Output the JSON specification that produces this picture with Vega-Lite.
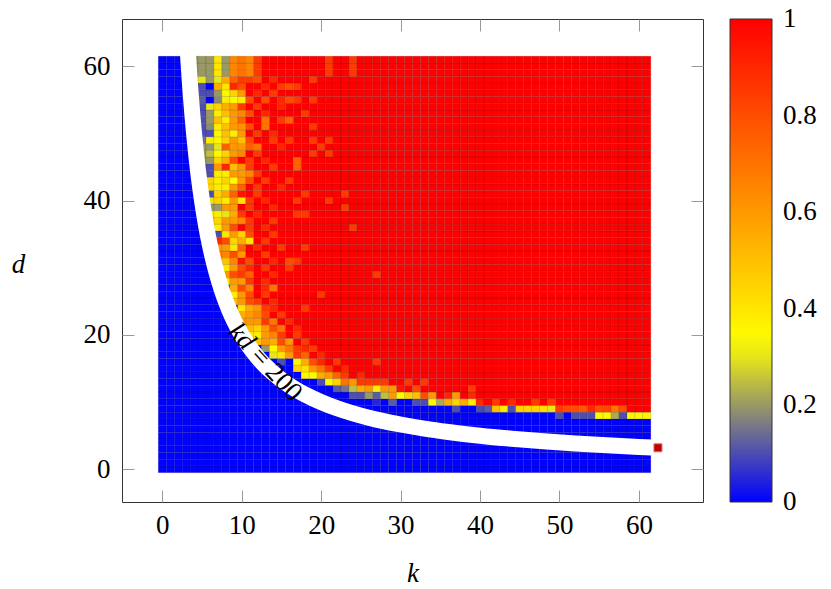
{"$schema":"https://vega.github.io/schema/vega-lite/v6.json","width":581,"height":483,"autosize":"none","padding":{"left":122,"top":19,"right":128,"bottom":87},"background":"white",
"config":{"view":{"stroke":"#333","strokeWidth":1},"axis":{"domain":false,"grid":false,"tickColor":"#999","tickWidth":1,"tickSize":-12,"labelFont":"Liberation Serif","labelFontSize":27,"labelColor":"#000","titleFont":"Liberation Serif","titleFontSize":27,"titleFontStyle":"italic","titleFontWeight":"normal","titleColor":"#000"}},
"layer":[
{"data":{"values":"k,d,v\n0,0,0\n1,0,0\n2,0,0\n3,0,0\n4,0,0\n5,0,0\n6,0,0\n7,0,0\n8,0,0\n9,0,0\n10,0,0\n11,0,0\n12,0,0\n13,0,0\n14,0,0\n15,0,0\n16,0,0\n17,0,0\n18,0,0\n19,0,0\n20,0,0\n21,0,0\n22,0,0\n23,0,0\n24,0,0\n25,0,0\n26,0,0\n27,0,0\n28,0,0\n29,0,0\n30,0,0\n31,0,0\n32,0,0\n33,0,0\n34,0,0\n35,0,0\n36,0,0\n37,0,0\n38,0,0\n39,0,0\n40,0,0\n41,0,0\n42,0,0\n43,0,0\n44,0,0\n45,0,0\n46,0,0\n47,0,0\n48,0,0\n49,0,0\n50,0,0\n51,0,0\n52,0,0\n53,0,0\n54,0,0\n55,0,0\n56,0,0\n57,0,0\n58,0,0\n59,0,0\n60,0,0\n61,0,0\n0,1,0\n1,1,0\n2,1,0\n3,1,0\n4,1,0\n5,1,0\n6,1,0\n7,1,0\n8,1,0\n9,1,0\n10,1,0\n11,1,0\n12,1,0\n13,1,0\n14,1,0\n15,1,0\n16,1,0\n17,1,0\n18,1,0\n19,1,0\n20,1,0\n21,1,0\n22,1,0\n23,1,0\n24,1,0\n25,1,0\n26,1,0\n27,1,0\n28,1,0\n29,1,0\n30,1,0\n31,1,0\n32,1,0\n33,1,0\n34,1,0\n35,1,0\n36,1,0\n37,1,0\n38,1,0\n39,1,0\n40,1,0\n41,1,0\n42,1,0\n43,1,0\n44,1,0\n45,1,0\n46,1,0\n47,1,0\n48,1,0\n49,1,0\n50,1,0\n51,1,0\n52,1,0\n53,1,0\n54,1,0\n55,1,0\n56,1,0\n57,1,0\n58,1,0\n59,1,0\n60,1,0\n61,1,0\n0,2,0\n1,2,0\n2,2,0\n3,2,0\n4,2,0\n5,2,0\n6,2,0\n7,2,0\n8,2,0\n9,2,0\n10,2,0\n11,2,0\n12,2,0\n13,2,0\n14,2,0\n15,2,0\n16,2,0\n17,2,0\n18,2,0\n19,2,0\n20,2,0\n21,2,0\n22,2,0\n23,2,0\n24,2,0\n25,2,0\n26,2,0\n27,2,0\n28,2,0\n29,2,0\n30,2,0\n31,2,0\n32,2,0\n33,2,0\n34,2,0\n35,2,0\n36,2,0\n37,2,0\n38,2,0\n39,2,0\n40,2,0\n41,2,0\n42,2,0\n43,2,0\n44,2,0\n45,2,0\n46,2,0\n47,2,0\n48,2,0\n49,2,0\n50,2,0\n51,2,0\n52,2,0\n53,2,0\n54,2,0\n55,2,0\n56,2,0\n57,2,0\n58,2,0\n59,2,0\n60,2,0\n61,2,0\n0,3,0\n1,3,0\n2,3,0\n3,3,0\n4,3,0\n5,3,0\n6,3,0\n7,3,0\n8,3,0\n9,3,0\n10,3,0\n11,3,0\n12,3,0\n13,3,0\n14,3,0\n15,3,0\n16,3,0\n17,3,0\n18,3,0\n19,3,0\n20,3,0\n21,3,0\n22,3,0\n23,3,0\n24,3,0\n25,3,0\n26,3,0\n27,3,0\n28,3,0\n29,3,0\n30,3,0\n31,3,0\n32,3,0\n33,3,0\n34,3,0\n35,3,0\n36,3,0\n37,3,0\n38,3,0\n39,3,0\n40,3,0\n41,3,0\n42,3,0\n43,3,0\n44,3,0\n45,3,0\n46,3,0\n47,3,0\n48,3,0\n49,3,0\n50,3,0\n51,3,0\n52,3,0\n53,3,0\n54,3,0\n55,3,0\n56,3,0\n57,3,0\n58,3,0\n59,3,0\n60,3,0\n61,3,0\n0,4,0\n1,4,0\n2,4,0\n3,4,0\n4,4,0\n5,4,0\n6,4,0\n7,4,0\n8,4,0\n9,4,0\n10,4,0\n11,4,0\n12,4,0\n13,4,0\n14,4,0\n15,4,0\n16,4,0\n17,4,0\n18,4,0\n19,4,0\n20,4,0\n21,4,0\n22,4,0\n23,4,0\n24,4,0\n25,4,0\n26,4,0\n27,4,0\n28,4,0\n29,4,0\n30,4,0\n31,4,0\n32,4,0\n33,4,0\n34,4,0\n35,4,0\n36,4,0\n37,4,0\n38,4,0\n39,4,0\n40,4,0\n41,4,0\n42,4,0\n43,4,0\n44,4,0\n45,4,0\n46,4,0\n47,4,0\n48,4,0\n49,4,0\n50,4,0\n51,4,0\n52,4,0\n53,4,0\n54,4,0\n55,4,0\n56,4,0\n57,4,0\n58,4,0\n59,4,0\n60,4,0\n61,4,0\n0,5,0\n1,5,0\n2,5,0\n3,5,0\n4,5,0\n5,5,0\n6,5,0\n7,5,0\n8,5,0\n9,5,0\n10,5,0\n11,5,0\n12,5,0\n13,5,0\n14,5,0\n15,5,0\n16,5,0\n17,5,0\n18,5,0\n19,5,0\n20,5,0\n21,5,0\n22,5,0\n23,5,0\n24,5,0\n25,5,0\n26,5,0\n27,5,0\n28,5,0\n29,5,0\n30,5,0\n31,5,0\n32,5,0\n33,5,0\n34,5,0\n35,5,0\n36,5,0\n37,5,0\n38,5,0\n39,5,0\n40,5,0\n41,5,0\n42,5,0\n43,5,0\n44,5,0\n45,5,0\n46,5,0\n47,5,0\n48,5,0\n49,5,0\n50,5,0\n51,5,0\n52,5,0\n53,5,0\n54,5,0\n55,5,0\n56,5,0\n57,5,0\n58,5,0\n59,5,0\n60,5,0\n61,5,0\n0,6,0\n1,6,0\n2,6,0\n3,6,0\n4,6,0\n5,6,0\n6,6,0\n7,6,0\n8,6,0\n9,6,0\n10,6,0\n11,6,0\n12,6,0\n13,6,0\n14,6,0\n15,6,0\n16,6,0\n17,6,0\n18,6,0\n19,6,0\n20,6,0\n21,6,0\n22,6,0\n23,6,0\n24,6,0\n25,6,0\n26,6,0\n27,6,0\n28,6,0\n29,6,0\n30,6,0\n31,6,0\n32,6,0\n33,6,0\n34,6,0\n35,6,0\n36,6,0\n37,6,0\n38,6,0\n39,6,0\n40,6,0\n41,6,0\n42,6,0\n43,6,0\n44,6,0\n45,6,0\n46,6,0\n47,6,0\n48,6,0\n49,6,0\n50,6,0\n51,6,0\n52,6,0\n53,6,0\n54,6,0\n55,6,0\n56,6,0\n57,6,0\n58,6,0\n59,6,0\n60,6,0\n61,6,0\n0,7,0\n1,7,0\n2,7,0\n3,7,0\n4,7,0\n5,7,0\n6,7,0\n7,7,0\n8,7,0\n9,7,0\n10,7,0\n11,7,0\n12,7,0\n13,7,0\n14,7,0\n15,7,0\n16,7,0\n17,7,0\n18,7,0\n19,7,0\n20,7,0\n21,7,0\n22,7,0\n23,7,0\n24,7,0\n25,7,0\n26,7,0\n27,7,0\n28,7,0\n29,7,0\n30,7,0\n31,7,0\n32,7,0\n33,7,0\n34,7,0\n35,7,0\n36,7,0\n37,7,0\n38,7,0\n39,7,0\n40,7,0\n41,7,0\n42,7,0\n43,7,0\n44,7,0\n45,7,0\n46,7,0\n47,7,0\n48,7,0\n49,7,0\n50,7,0\n51,7,0\n52,7,0\n53,7,0\n54,7,0\n55,7,0\n56,7,0\n57,7,0\n58,7,0\n59,7,0\n60,7,0\n61,7,0\n0,8,0\n1,8,0\n2,8,0\n3,8,0\n4,8,0\n5,8,0\n6,8,0\n7,8,0\n8,8,0\n9,8,0\n10,8,0\n11,8,0\n12,8,0\n13,8,0\n14,8,0\n15,8,0\n16,8,0\n17,8,0\n18,8,0\n19,8,0\n20,8,0\n21,8,0\n22,8,0\n23,8,0\n24,8,0\n25,8,0\n26,8,0\n27,8,0\n28,8,0\n29,8,0\n30,8,0\n31,8,0\n32,8,0\n33,8,0\n34,8,0\n35,8,0\n36,8,0\n37,8,0\n38,8,0\n39,8,0\n40,8,0\n41,8,0\n42,8,0\n43,8,0\n44,8,0\n45,8,0\n46,8,0\n47,8,0\n48,8,0\n49,8,0\n50,8,.1\n51,8,0\n52,8,.1\n53,8,.1\n54,8,.1\n55,8,.35\n56,8,.35\n57,8,.22\n58,8,.1\n59,8,.35\n60,8,.35\n61,8,.35\n0,9,0\n1,9,0\n2,9,0\n3,9,0\n4,9,0\n5,9,0\n6,9,0\n7,9,0\n8,9,0\n9,9,0\n10,9,0\n11,9,0\n12,9,0\n13,9,0\n14,9,0\n15,9,0\n16,9,0\n17,9,0\n18,9,0\n19,9,0\n20,9,0\n21,9,0\n22,9,0\n23,9,0\n24,9,0\n25,9,0\n26,9,0\n27,9,0\n28,9,0\n29,9,0\n30,9,0\n31,9,0\n32,9,0\n33,9,0\n34,9,0\n35,9,0\n36,9,0\n37,9,.1\n38,9,0\n39,9,0\n40,9,.1\n41,9,.12\n42,9,.5\n43,9,.38\n44,9,.1\n45,9,.45\n46,9,.45\n47,9,.45\n48,9,.42\n49,9,.3\n50,9,.85\n51,9,.8\n52,9,.8\n53,9,.78\n54,9,.9\n55,9,.8\n56,9,.82\n57,9,.7\n58,9,.8\n59,9,1\n60,9,1\n61,9,1\n0,10,0\n1,10,0\n2,10,0\n3,10,0\n4,10,0\n5,10,0\n6,10,0\n7,10,0\n8,10,0\n9,10,0\n10,10,0\n11,10,0\n12,10,0\n13,10,0\n14,10,0\n15,10,0\n16,10,0\n17,10,0\n18,10,0\n19,10,0\n20,10,0\n21,10,0\n22,10,0\n23,10,0\n24,10,0\n25,10,0\n26,10,0\n27,10,.05\n28,10,0\n29,10,.12\n30,10,0\n31,10,0\n32,10,.1\n33,10,.1\n34,10,.35\n35,10,.22\n36,10,.55\n37,10,.45\n38,10,.55\n39,10,.38\n40,10,.9\n41,10,1\n42,10,.85\n43,10,1\n44,10,.9\n45,10,1\n46,10,1\n47,10,.85\n48,10,1\n49,10,.85\n50,10,1\n51,10,1\n52,10,1\n53,10,1\n54,10,1\n55,10,1\n56,10,1\n57,10,1\n58,10,1\n59,10,1\n60,10,1\n61,10,1\n0,11,0\n1,11,0\n2,11,0\n3,11,0\n4,11,0\n5,11,0\n6,11,0\n7,11,0\n8,11,0\n9,11,0\n10,11,0\n11,11,0\n12,11,0\n13,11,0\n14,11,0\n15,11,0\n16,11,0\n17,11,0\n18,11,0\n19,11,0\n20,11,0\n21,11,0\n22,11,0\n23,11,0\n24,11,.1\n25,11,.1\n26,11,.2\n27,11,.12\n28,11,.25\n29,11,.6\n30,11,.35\n31,11,.45\n32,11,.5\n33,11,.8\n34,11,.6\n35,11,1\n36,11,.9\n37,11,.6\n38,11,1\n39,11,.9\n40,11,1\n41,11,1\n42,11,1\n43,11,1\n44,11,1\n45,11,1\n46,11,1\n47,11,1\n48,11,1\n49,11,1\n50,11,1\n51,11,1\n52,11,1\n53,11,1\n54,11,1\n55,11,1\n56,11,1\n57,11,1\n58,11,1\n59,11,1\n60,11,1\n61,11,1\n0,12,0\n1,12,0\n2,12,0\n3,12,0\n4,12,0\n5,12,0\n6,12,0\n7,12,0\n8,12,0\n9,12,0\n10,12,0\n11,12,0\n12,12,0\n13,12,0\n14,12,0\n15,12,0\n16,12,0\n17,12,0\n18,12,0\n19,12,0\n20,12,0\n21,12,0\n22,12,.12\n23,12,.15\n24,12,.25\n25,12,.55\n26,12,.6\n27,12,.38\n28,12,.6\n29,12,.6\n30,12,.95\n31,12,1\n32,12,.8\n33,12,1\n34,12,1\n35,12,1\n36,12,1\n37,12,1\n38,12,1\n39,12,.85\n40,12,1\n41,12,1\n42,12,1\n43,12,1\n44,12,1\n45,12,1\n46,12,1\n47,12,1\n48,12,1\n49,12,1\n50,12,1\n51,12,1\n52,12,1\n53,12,1\n54,12,1\n55,12,1\n56,12,1\n57,12,1\n58,12,1\n59,12,1\n60,12,1\n61,12,1\n0,13,0\n1,13,0\n2,13,0\n3,13,0\n4,13,0\n5,13,0\n6,13,0\n7,13,0\n8,13,0\n9,13,0\n10,13,0\n11,13,0\n12,13,0\n13,13,0\n14,13,0\n15,13,0\n16,13,0\n17,13,0\n18,13,0\n19,13,0\n20,13,.1\n21,13,.35\n22,13,.45\n23,13,.7\n24,13,.6\n25,13,.85\n26,13,.85\n27,13,.85\n28,13,.85\n29,13,1\n30,13,1\n31,13,.85\n32,13,1\n33,13,.85\n34,13,1\n35,13,1\n36,13,1\n37,13,1\n38,13,1\n39,13,1\n40,13,1\n41,13,1\n42,13,1\n43,13,1\n44,13,1\n45,13,1\n46,13,1\n47,13,1\n48,13,1\n49,13,1\n50,13,1\n51,13,1\n52,13,1\n53,13,1\n54,13,1\n55,13,1\n56,13,1\n57,13,1\n58,13,1\n59,13,1\n60,13,1\n61,13,1\n0,14,0\n1,14,0\n2,14,0\n3,14,0\n4,14,0\n5,14,0\n6,14,0\n7,14,0\n8,14,0\n9,14,0\n10,14,0\n11,14,0\n12,14,0\n13,14,0\n14,14,0\n15,14,0\n16,14,0\n17,14,0\n18,14,.35\n19,14,.35\n20,14,.55\n21,14,.6\n22,14,.75\n23,14,.85\n24,14,1\n25,14,.9\n26,14,1\n27,14,1\n28,14,1\n29,14,1\n30,14,1\n31,14,1\n32,14,1\n33,14,1\n34,14,1\n35,14,1\n36,14,1\n37,14,1\n38,14,1\n39,14,1\n40,14,1\n41,14,1\n42,14,1\n43,14,1\n44,14,1\n45,14,1\n46,14,1\n47,14,1\n48,14,1\n49,14,1\n50,14,1\n51,14,1\n52,14,1\n53,14,1\n54,14,1\n55,14,1\n56,14,1\n57,14,1\n58,14,1\n59,14,1\n60,14,1\n61,14,1\n0,15,0\n1,15,0\n2,15,0\n3,15,0\n4,15,0\n5,15,0\n6,15,0\n7,15,0\n8,15,0\n9,15,0\n10,15,0\n11,15,0\n12,15,0\n13,15,0\n14,15,0\n15,15,0\n16,15,0\n17,15,.45\n18,15,.42\n19,15,.6\n20,15,.7\n21,15,.85\n22,15,1\n23,15,.9\n24,15,1\n25,15,1\n26,15,1\n27,15,1\n28,15,1\n29,15,1\n30,15,1\n31,15,1\n32,15,1\n33,15,1\n34,15,1\n35,15,1\n36,15,1\n37,15,1\n38,15,1\n39,15,1\n40,15,1\n41,15,1\n42,15,1\n43,15,1\n44,15,1\n45,15,1\n46,15,1\n47,15,1\n48,15,1\n49,15,1\n50,15,1\n51,15,1\n52,15,1\n53,15,1\n54,15,1\n55,15,1\n56,15,1\n57,15,1\n58,15,1\n59,15,1\n60,15,1\n61,15,1\n0,16,0\n1,16,0\n2,16,0\n3,16,0\n4,16,0\n5,16,0\n6,16,0\n7,16,0\n8,16,0\n9,16,0\n10,16,0\n11,16,0\n12,16,0\n13,16,0\n14,16,0\n15,16,.1\n16,16,0\n17,16,.35\n18,16,.55\n19,16,.8\n20,16,.9\n21,16,1\n22,16,.85\n23,16,1\n24,16,1\n25,16,1\n26,16,1\n27,16,.85\n28,16,1\n29,16,1\n30,16,1\n31,16,1\n32,16,1\n33,16,1\n34,16,1\n35,16,1\n36,16,1\n37,16,1\n38,16,1\n39,16,1\n40,16,1\n41,16,1\n42,16,1\n43,16,1\n44,16,1\n45,16,1\n46,16,1\n47,16,1\n48,16,1\n49,16,1\n50,16,1\n51,16,1\n52,16,1\n53,16,1\n54,16,1\n55,16,1\n56,16,1\n57,16,1\n58,16,1\n59,16,1\n60,16,1\n61,16,1\n0,17,0\n1,17,0\n2,17,0\n3,17,0\n4,17,0\n5,17,0\n6,17,0\n7,17,0\n8,17,0\n9,17,0\n10,17,0\n11,17,0\n12,17,0\n13,17,0\n14,17,.3\n15,17,.4\n16,17,.6\n17,17,.85\n18,17,.75\n19,17,1\n20,17,.9\n21,17,1\n22,17,1\n23,17,1\n24,17,1\n25,17,1\n26,17,1\n27,17,1\n28,17,1\n29,17,1\n30,17,1\n31,17,1\n32,17,1\n33,17,1\n34,17,1\n35,17,1\n36,17,1\n37,17,1\n38,17,1\n39,17,1\n40,17,1\n41,17,1\n42,17,1\n43,17,1\n44,17,1\n45,17,1\n46,17,1\n47,17,1\n48,17,1\n49,17,1\n50,17,1\n51,17,1\n52,17,1\n53,17,1\n54,17,1\n55,17,1\n56,17,1\n57,17,1\n58,17,1\n59,17,1\n60,17,1\n61,17,1\n0,18,0\n1,18,0\n2,18,0\n3,18,0\n4,18,0\n5,18,0\n6,18,0\n7,18,0\n8,18,0\n9,18,0\n10,18,0\n11,18,0\n12,18,0\n13,18,.2\n14,18,.35\n15,18,.6\n16,18,.7\n17,18,.85\n18,18,.9\n19,18,.85\n20,18,1\n21,18,1\n22,18,1\n23,18,1\n24,18,1\n25,18,1\n26,18,1\n27,18,1\n28,18,1\n29,18,1\n30,18,1\n31,18,1\n32,18,1\n33,18,1\n34,18,1\n35,18,1\n36,18,1\n37,18,1\n38,18,1\n39,18,1\n40,18,1\n41,18,1\n42,18,1\n43,18,1\n44,18,1\n45,18,1\n46,18,1\n47,18,1\n48,18,1\n49,18,1\n50,18,1\n51,18,1\n52,18,1\n53,18,1\n54,18,1\n55,18,1\n56,18,1\n57,18,1\n58,18,1\n59,18,1\n60,18,1\n61,18,1\n0,19,0\n1,19,0\n2,19,0\n3,19,0\n4,19,0\n5,19,0\n6,19,0\n7,19,0\n8,19,0\n9,19,0\n10,19,0\n11,19,0\n12,19,.5\n13,19,.6\n14,19,.55\n15,19,.8\n16,19,.6\n17,19,1\n18,19,.85\n19,19,1\n20,19,1\n21,19,1\n22,19,1\n23,19,1\n24,19,1\n25,19,1\n26,19,1\n27,19,1\n28,19,1\n29,19,1\n30,19,1\n31,19,1\n32,19,1\n33,19,1\n34,19,1\n35,19,1\n36,19,1\n37,19,1\n38,19,1\n39,19,1\n40,19,1\n41,19,1\n42,19,1\n43,19,1\n44,19,1\n45,19,1\n46,19,1\n47,19,1\n48,19,1\n49,19,1\n50,19,1\n51,19,1\n52,19,1\n53,19,1\n54,19,1\n55,19,1\n56,19,1\n57,19,1\n58,19,1\n59,19,1\n60,19,1\n61,19,1\n0,20,0\n1,20,0\n2,20,0\n3,20,0\n4,20,0\n5,20,0\n6,20,0\n7,20,0\n8,20,0\n9,20,0\n10,20,0\n11,20,.38\n12,20,.38\n13,20,.6\n14,20,.65\n15,20,.85\n16,20,1\n17,20,.85\n18,20,1\n19,20,1\n20,20,1\n21,20,1\n22,20,1\n23,20,1\n24,20,1\n25,20,1\n26,20,1\n27,20,1\n28,20,1\n29,20,1\n30,20,1\n31,20,1\n32,20,1\n33,20,1\n34,20,1\n35,20,1\n36,20,1\n37,20,1\n38,20,1\n39,20,1\n40,20,1\n41,20,1\n42,20,1\n43,20,1\n44,20,1\n45,20,1\n46,20,1\n47,20,1\n48,20,1\n49,20,1\n50,20,1\n51,20,1\n52,20,1\n53,20,1\n54,20,1\n55,20,1\n56,20,1\n57,20,1\n58,20,1\n59,20,1\n60,20,1\n61,20,1\n0,21,0\n1,21,0\n2,21,0\n3,21,0\n4,21,0\n5,21,0\n6,21,0\n7,21,0\n8,21,0\n9,21,0\n10,21,0\n11,21,.5\n12,21,.45\n13,21,.6\n14,21,.8\n15,21,.7\n16,21,1\n17,21,.9\n18,21,1\n19,21,1\n20,21,1\n21,21,1\n22,21,1\n23,21,1\n24,21,1\n25,21,1\n26,21,1\n27,21,1\n28,21,1\n29,21,1\n30,21,1\n31,21,1\n32,21,1\n33,21,1\n34,21,1\n35,21,1\n36,21,1\n37,21,1\n38,21,1\n39,21,1\n40,21,1\n41,21,1\n42,21,1\n43,21,1\n44,21,1\n45,21,1\n46,21,1\n47,21,1\n48,21,1\n49,21,1\n50,21,1\n51,21,1\n52,21,1\n53,21,1\n54,21,1\n55,21,1\n56,21,1\n57,21,1\n58,21,1\n59,21,1\n60,21,1\n61,21,1\n0,22,0\n1,22,0\n2,22,0\n3,22,0\n4,22,0\n5,22,0\n6,22,0\n7,22,0\n8,22,0\n9,22,0\n10,22,.6\n11,22,.6\n12,22,.6\n13,22,.85\n14,22,.7\n15,22,1\n16,22,.9\n17,22,1\n18,22,1\n19,22,1\n20,22,1\n21,22,1\n22,22,1\n23,22,1\n24,22,1\n25,22,1\n26,22,1\n27,22,1\n28,22,1\n29,22,1\n30,22,1\n31,22,1\n32,22,1\n33,22,1\n34,22,1\n35,22,1\n36,22,1\n37,22,1\n38,22,1\n39,22,1\n40,22,1\n41,22,1\n42,22,1\n43,22,1\n44,22,1\n45,22,1\n46,22,1\n47,22,1\n48,22,1\n49,22,1\n50,22,1\n51,22,1\n52,22,1\n53,22,1\n54,22,1\n55,22,1\n56,22,1\n57,22,1\n58,22,1\n59,22,1\n60,22,1\n61,22,1\n0,23,0\n1,23,0\n2,23,0\n3,23,0\n4,23,0\n5,23,0\n6,23,0\n7,23,0\n8,23,0\n9,23,0\n10,23,.55\n11,23,.6\n12,23,.65\n13,23,.8\n14,23,1\n15,23,.85\n16,23,1\n17,23,1\n18,23,1\n19,23,1\n20,23,1\n21,23,1\n22,23,1\n23,23,1\n24,23,1\n25,23,1\n26,23,1\n27,23,1\n28,23,1\n29,23,1\n30,23,1\n31,23,1\n32,23,1\n33,23,1\n34,23,1\n35,23,1\n36,23,1\n37,23,1\n38,23,1\n39,23,1\n40,23,1\n41,23,1\n42,23,1\n43,23,1\n44,23,1\n45,23,1\n46,23,1\n47,23,1\n48,23,1\n49,23,1\n50,23,1\n51,23,1\n52,23,1\n53,23,1\n54,23,1\n55,23,1\n56,23,1\n57,23,1\n58,23,1\n59,23,1\n60,23,1\n61,23,1\n0,24,0\n1,24,0\n2,24,0\n3,24,0\n4,24,0\n5,24,0\n6,24,0\n7,24,0\n8,24,0\n9,24,0\n10,24,.4\n11,24,.55\n12,24,.6\n13,24,.85\n14,24,.9\n15,24,1\n16,24,1\n17,24,1\n18,24,.85\n19,24,1\n20,24,1\n21,24,1\n22,24,1\n23,24,1\n24,24,1\n25,24,1\n26,24,1\n27,24,1\n28,24,1\n29,24,1\n30,24,1\n31,24,1\n32,24,1\n33,24,1\n34,24,1\n35,24,1\n36,24,1\n37,24,1\n38,24,1\n39,24,1\n40,24,1\n41,24,1\n42,24,1\n43,24,1\n44,24,1\n45,24,1\n46,24,1\n47,24,1\n48,24,1\n49,24,1\n50,24,1\n51,24,1\n52,24,1\n53,24,1\n54,24,1\n55,24,1\n56,24,1\n57,24,1\n58,24,1\n59,24,1\n60,24,1\n61,24,1\n0,25,0\n1,25,0\n2,25,0\n3,25,0\n4,25,0\n5,25,0\n6,25,0\n7,25,0\n8,25,0\n9,25,.5\n10,25,.6\n11,25,.8\n12,25,.85\n13,25,1\n14,25,.9\n15,25,1\n16,25,1\n17,25,1\n18,25,1\n19,25,1\n20,25,1\n21,25,1\n22,25,1\n23,25,1\n24,25,1\n25,25,1\n26,25,1\n27,25,1\n28,25,1\n29,25,1\n30,25,1\n31,25,1\n32,25,1\n33,25,1\n34,25,1\n35,25,1\n36,25,1\n37,25,1\n38,25,1\n39,25,1\n40,25,1\n41,25,1\n42,25,1\n43,25,1\n44,25,1\n45,25,1\n46,25,1\n47,25,1\n48,25,1\n49,25,1\n50,25,1\n51,25,1\n52,25,1\n53,25,1\n54,25,1\n55,25,1\n56,25,1\n57,25,1\n58,25,1\n59,25,1\n60,25,1\n61,25,1\n0,26,0\n1,26,0\n2,26,0\n3,26,0\n4,26,0\n5,26,0\n6,26,0\n7,26,0\n8,26,0\n9,26,.38\n10,26,.6\n11,26,.8\n12,26,1\n13,26,.85\n14,26,1\n15,26,1\n16,26,1\n17,26,1\n18,26,1\n19,26,1\n20,26,.85\n21,26,1\n22,26,1\n23,26,1\n24,26,1\n25,26,1\n26,26,1\n27,26,1\n28,26,1\n29,26,1\n30,26,1\n31,26,1\n32,26,1\n33,26,1\n34,26,1\n35,26,1\n36,26,1\n37,26,1\n38,26,1\n39,26,1\n40,26,1\n41,26,1\n42,26,1\n43,26,1\n44,26,1\n45,26,1\n46,26,1\n47,26,1\n48,26,1\n49,26,1\n50,26,1\n51,26,1\n52,26,1\n53,26,1\n54,26,1\n55,26,1\n56,26,1\n57,26,1\n58,26,1\n59,26,1\n60,26,1\n61,26,1\n0,27,0\n1,27,0\n2,27,0\n3,27,0\n4,27,0\n5,27,0\n6,27,0\n7,27,0\n8,27,0\n9,27,.55\n10,27,.8\n11,27,.65\n12,27,1\n13,27,.9\n14,27,.7\n15,27,1\n16,27,1\n17,27,1\n18,27,1\n19,27,1\n20,27,1\n21,27,1\n22,27,1\n23,27,1\n24,27,1\n25,27,1\n26,27,1\n27,27,1\n28,27,1\n29,27,1\n30,27,1\n31,27,1\n32,27,1\n33,27,1\n34,27,1\n35,27,1\n36,27,1\n37,27,1\n38,27,1\n39,27,1\n40,27,1\n41,27,1\n42,27,1\n43,27,1\n44,27,1\n45,27,1\n46,27,1\n47,27,1\n48,27,1\n49,27,1\n50,27,1\n51,27,1\n52,27,1\n53,27,1\n54,27,1\n55,27,1\n56,27,1\n57,27,1\n58,27,1\n59,27,1\n60,27,1\n61,27,1\n0,28,0\n1,28,0\n2,28,0\n3,28,0\n4,28,0\n5,28,0\n6,28,0\n7,28,0\n8,28,.38\n9,28,.6\n10,28,.6\n11,28,.85\n12,28,1\n13,28,.9\n14,28,1\n15,28,1\n16,28,1\n17,28,1\n18,28,1\n19,28,1\n20,28,1\n21,28,1\n22,28,1\n23,28,1\n24,28,1\n25,28,1\n26,28,1\n27,28,1\n28,28,1\n29,28,1\n30,28,1\n31,28,1\n32,28,1\n33,28,1\n34,28,1\n35,28,1\n36,28,1\n37,28,1\n38,28,1\n39,28,1\n40,28,1\n41,28,1\n42,28,1\n43,28,1\n44,28,1\n45,28,1\n46,28,1\n47,28,1\n48,28,1\n49,28,1\n50,28,1\n51,28,1\n52,28,1\n53,28,1\n54,28,1\n55,28,1\n56,28,1\n57,28,1\n58,28,1\n59,28,1\n60,28,1\n61,28,1\n0,29,0\n1,29,0\n2,29,0\n3,29,0\n4,29,0\n5,29,0\n6,29,0\n7,29,0\n8,29,.6\n9,29,.8\n10,29,.85\n11,29,.75\n12,29,1\n13,29,1\n14,29,.9\n15,29,1\n16,29,1\n17,29,1\n18,29,1\n19,29,1\n20,29,1\n21,29,1\n22,29,1\n23,29,1\n24,29,1\n25,29,1\n26,29,1\n27,29,.85\n28,29,1\n29,29,1\n30,29,1\n31,29,1\n32,29,1\n33,29,1\n34,29,1\n35,29,1\n36,29,1\n37,29,1\n38,29,1\n39,29,1\n40,29,1\n41,29,1\n42,29,1\n43,29,1\n44,29,1\n45,29,1\n46,29,1\n47,29,1\n48,29,1\n49,29,1\n50,29,1\n51,29,1\n52,29,1\n53,29,1\n54,29,1\n55,29,1\n56,29,1\n57,29,1\n58,29,1\n59,29,1\n60,29,1\n61,29,1\n0,30,0\n1,30,0\n2,30,0\n3,30,0\n4,30,0\n5,30,0\n6,30,0\n7,30,0\n8,30,.4\n9,30,.6\n10,30,.8\n11,30,.9\n12,30,1\n13,30,.85\n14,30,1\n15,30,1\n16,30,.85\n17,30,1\n18,30,1\n19,30,1\n20,30,1\n21,30,1\n22,30,1\n23,30,1\n24,30,1\n25,30,1\n26,30,1\n27,30,1\n28,30,1\n29,30,1\n30,30,1\n31,30,1\n32,30,1\n33,30,1\n34,30,1\n35,30,1\n36,30,1\n37,30,1\n38,30,1\n39,30,1\n40,30,1\n41,30,1\n42,30,1\n43,30,1\n44,30,1\n45,30,1\n46,30,1\n47,30,1\n48,30,1\n49,30,1\n50,30,1\n51,30,1\n52,30,1\n53,30,1\n54,30,1\n55,30,1\n56,30,1\n57,30,1\n58,30,1\n59,30,1\n60,30,1\n61,30,1\n0,31,0\n1,31,0\n2,31,0\n3,31,0\n4,31,0\n5,31,0\n6,31,0\n7,31,.5\n8,31,.5\n9,31,.65\n10,31,.95\n11,31,.8\n12,31,1\n13,31,1\n14,31,.9\n15,31,1\n16,31,.8\n17,31,.85\n18,31,1\n19,31,1\n20,31,1\n21,31,1\n22,31,1\n23,31,1\n24,31,1\n25,31,1\n26,31,1\n27,31,1\n28,31,1\n29,31,1\n30,31,1\n31,31,1\n32,31,1\n33,31,1\n34,31,1\n35,31,1\n36,31,1\n37,31,1\n38,31,1\n39,31,1\n40,31,1\n41,31,1\n42,31,1\n43,31,1\n44,31,1\n45,31,1\n46,31,1\n47,31,1\n48,31,1\n49,31,1\n50,31,1\n51,31,1\n52,31,1\n53,31,1\n54,31,1\n55,31,1\n56,31,1\n57,31,1\n58,31,1\n59,31,1\n60,31,1\n61,31,1\n0,32,0\n1,32,0\n2,32,0\n3,32,0\n4,32,0\n5,32,0\n6,32,0\n7,32,.65\n8,32,.65\n9,32,.8\n10,32,.6\n11,32,1\n12,32,1\n13,32,.85\n14,32,1\n15,32,1\n16,32,1\n17,32,1\n18,32,1\n19,32,1\n20,32,1\n21,32,1\n22,32,1\n23,32,1\n24,32,1\n25,32,1\n26,32,1\n27,32,1\n28,32,1\n29,32,1\n30,32,1\n31,32,1\n32,32,1\n33,32,1\n34,32,1\n35,32,1\n36,32,1\n37,32,1\n38,32,1\n39,32,1\n40,32,1\n41,32,1\n42,32,1\n43,32,1\n44,32,1\n45,32,1\n46,32,1\n47,32,1\n48,32,1\n49,32,1\n50,32,1\n51,32,1\n52,32,1\n53,32,1\n54,32,1\n55,32,1\n56,32,1\n57,32,1\n58,32,1\n59,32,1\n60,32,1\n61,32,1\n0,33,0\n1,33,0\n2,33,0\n3,33,0\n4,33,0\n5,33,0\n6,33,0\n7,33,.6\n8,33,.6\n9,33,.4\n10,33,.75\n11,33,1\n12,33,.9\n13,33,1\n14,33,1\n15,33,.85\n16,33,1\n17,33,1\n18,33,.85\n19,33,1\n20,33,1\n21,33,1\n22,33,1\n23,33,1\n24,33,1\n25,33,1\n26,33,1\n27,33,1\n28,33,1\n29,33,1\n30,33,1\n31,33,1\n32,33,1\n33,33,1\n34,33,1\n35,33,1\n36,33,1\n37,33,1\n38,33,1\n39,33,1\n40,33,1\n41,33,1\n42,33,1\n43,33,1\n44,33,1\n45,33,1\n46,33,1\n47,33,1\n48,33,1\n49,33,1\n50,33,1\n51,33,1\n52,33,1\n53,33,1\n54,33,1\n55,33,1\n56,33,1\n57,33,1\n58,33,1\n59,33,1\n60,33,1\n61,33,1\n0,34,0\n1,34,0\n2,34,0\n3,34,0\n4,34,0\n5,34,0\n6,34,0\n7,34,.9\n8,34,.8\n9,34,.45\n10,34,.55\n11,34,.4\n12,34,1\n13,34,.85\n14,34,1\n15,34,1\n16,34,1\n17,34,1\n18,34,1\n19,34,1\n20,34,1\n21,34,1\n22,34,1\n23,34,1\n24,34,1\n25,34,1\n26,34,1\n27,34,1\n28,34,1\n29,34,1\n30,34,1\n31,34,1\n32,34,1\n33,34,1\n34,34,1\n35,34,1\n36,34,1\n37,34,1\n38,34,1\n39,34,1\n40,34,1\n41,34,1\n42,34,1\n43,34,1\n44,34,1\n45,34,1\n46,34,1\n47,34,1\n48,34,1\n49,34,1\n50,34,1\n51,34,1\n52,34,1\n53,34,1\n54,34,1\n55,34,1\n56,34,1\n57,34,1\n58,34,1\n59,34,1\n60,34,1\n61,34,1\n0,35,0\n1,35,0\n2,35,0\n3,35,0\n4,35,0\n5,35,0\n6,35,0\n7,35,.1\n8,35,.4\n9,35,.6\n10,35,.45\n11,35,.8\n12,35,1\n13,35,1\n14,35,.85\n15,35,1\n16,35,1\n17,35,1\n18,35,1\n19,35,1\n20,35,1\n21,35,1\n22,35,1\n23,35,1\n24,35,1\n25,35,1\n26,35,1\n27,35,1\n28,35,1\n29,35,1\n30,35,1\n31,35,1\n32,35,1\n33,35,1\n34,35,1\n35,35,1\n36,35,1\n37,35,1\n38,35,1\n39,35,1\n40,35,1\n41,35,1\n42,35,1\n43,35,1\n44,35,1\n45,35,1\n46,35,1\n47,35,1\n48,35,1\n49,35,1\n50,35,1\n51,35,1\n52,35,1\n53,35,1\n54,35,1\n55,35,1\n56,35,1\n57,35,1\n58,35,1\n59,35,1\n60,35,1\n61,35,1\n0,36,0\n1,36,0\n2,36,0\n3,36,0\n4,36,0\n5,36,0\n6,36,0\n7,36,.38\n8,36,.6\n9,36,.8\n10,36,1\n11,36,.85\n12,36,1\n13,36,.9\n14,36,1\n15,36,1\n16,36,1\n17,36,1\n18,36,1\n19,36,1\n20,36,1\n21,36,1\n22,36,1\n23,36,1\n24,36,.85\n25,36,1\n26,36,1\n27,36,1\n28,36,1\n29,36,1\n30,36,1\n31,36,1\n32,36,1\n33,36,1\n34,36,1\n35,36,1\n36,36,1\n37,36,1\n38,36,1\n39,36,1\n40,36,1\n41,36,1\n42,36,1\n43,36,1\n44,36,1\n45,36,1\n46,36,1\n47,36,1\n48,36,1\n49,36,1\n50,36,1\n51,36,1\n52,36,1\n53,36,1\n54,36,1\n55,36,1\n56,36,1\n57,36,1\n58,36,1\n59,36,1\n60,36,1\n61,36,1\n0,37,0\n1,37,0\n2,37,0\n3,37,0\n4,37,0\n5,37,0\n6,37,.45\n7,37,.45\n8,37,.6\n9,37,.6\n10,37,.65\n11,37,.85\n12,37,1\n13,37,1\n14,37,.85\n15,37,1\n16,37,1\n17,37,1\n18,37,1\n19,37,1\n20,37,1\n21,37,1\n22,37,1\n23,37,1\n24,37,1\n25,37,1\n26,37,1\n27,37,1\n28,37,1\n29,37,1\n30,37,1\n31,37,1\n32,37,1\n33,37,1\n34,37,1\n35,37,1\n36,37,1\n37,37,1\n38,37,1\n39,37,1\n40,37,1\n41,37,1\n42,37,1\n43,37,1\n44,37,1\n45,37,1\n46,37,1\n47,37,1\n48,37,1\n49,37,1\n50,37,1\n51,37,1\n52,37,1\n53,37,1\n54,37,1\n55,37,1\n56,37,1\n57,37,1\n58,37,1\n59,37,1\n60,37,1\n61,37,1\n0,38,0\n1,38,0\n2,38,0\n3,38,0\n4,38,0\n5,38,0\n6,38,.38\n7,38,.38\n8,38,.3\n9,38,.55\n10,38,.85\n11,38,1\n12,38,.9\n13,38,1\n14,38,1\n15,38,1\n16,38,1\n17,38,.85\n18,38,.85\n19,38,1\n20,38,1\n21,38,1\n22,38,1\n23,38,1\n24,38,1\n25,38,1\n26,38,1\n27,38,1\n28,38,1\n29,38,1\n30,38,1\n31,38,1\n32,38,1\n33,38,1\n34,38,1\n35,38,1\n36,38,1\n37,38,1\n38,38,1\n39,38,1\n40,38,1\n41,38,1\n42,38,1\n43,38,1\n44,38,1\n45,38,1\n46,38,1\n47,38,1\n48,38,1\n49,38,1\n50,38,1\n51,38,1\n52,38,1\n53,38,1\n54,38,1\n55,38,1\n56,38,1\n57,38,1\n58,38,1\n59,38,1\n60,38,1\n61,38,1\n0,39,0\n1,39,0\n2,39,0\n3,39,0\n4,39,0\n5,39,0\n6,39,.2\n7,39,.2\n8,39,.6\n9,39,.6\n10,39,1\n11,39,.85\n12,39,1\n13,39,1\n14,39,.9\n15,39,1\n16,39,1\n17,39,1\n18,39,1\n19,39,1\n20,39,1\n21,39,1\n22,39,1\n23,39,.85\n24,39,1\n25,39,1\n26,39,1\n27,39,1\n28,39,1\n29,39,1\n30,39,1\n31,39,1\n32,39,1\n33,39,1\n34,39,1\n35,39,1\n36,39,1\n37,39,1\n38,39,1\n39,39,1\n40,39,1\n41,39,1\n42,39,1\n43,39,1\n44,39,1\n45,39,1\n46,39,1\n47,39,1\n48,39,1\n49,39,1\n50,39,1\n51,39,1\n52,39,1\n53,39,1\n54,39,1\n55,39,1\n56,39,1\n57,39,1\n58,39,1\n59,39,1\n60,39,1\n61,39,1\n0,40,0\n1,40,0\n2,40,0\n3,40,0\n4,40,0\n5,40,0\n6,40,.3\n7,40,.45\n8,40,.38\n9,40,.6\n10,40,.4\n11,40,.85\n12,40,1\n13,40,.9\n14,40,1\n15,40,1\n16,40,1\n17,40,.85\n18,40,1\n19,40,1\n20,40,1\n21,40,.85\n22,40,1\n23,40,1\n24,40,1\n25,40,1\n26,40,1\n27,40,1\n28,40,1\n29,40,1\n30,40,1\n31,40,1\n32,40,1\n33,40,1\n34,40,1\n35,40,1\n36,40,1\n37,40,1\n38,40,1\n39,40,1\n40,40,1\n41,40,1\n42,40,1\n43,40,1\n44,40,1\n45,40,1\n46,40,1\n47,40,1\n48,40,1\n49,40,1\n50,40,1\n51,40,1\n52,40,1\n53,40,1\n54,40,1\n55,40,1\n56,40,1\n57,40,1\n58,40,1\n59,40,1\n60,40,1\n61,40,1\n0,41,0\n1,41,0\n2,41,0\n3,41,0\n4,41,0\n5,41,0\n6,41,.1\n7,41,.45\n8,41,.55\n9,41,.75\n10,41,.95\n11,41,1\n12,41,.85\n13,41,1\n14,41,1\n15,41,1\n16,41,1\n17,41,1\n18,41,.85\n19,41,1\n20,41,1\n21,41,1\n22,41,1\n23,41,.85\n24,41,1\n25,41,1\n26,41,1\n27,41,1\n28,41,1\n29,41,1\n30,41,1\n31,41,1\n32,41,1\n33,41,1\n34,41,1\n35,41,1\n36,41,1\n37,41,1\n38,41,1\n39,41,1\n40,41,1\n41,41,1\n42,41,1\n43,41,1\n44,41,1\n45,41,1\n46,41,1\n47,41,1\n48,41,1\n49,41,1\n50,41,1\n51,41,1\n52,41,1\n53,41,1\n54,41,1\n55,41,1\n56,41,1\n57,41,1\n58,41,1\n59,41,1\n60,41,1\n61,41,1\n0,42,0\n1,42,0\n2,42,0\n3,42,0\n4,42,0\n5,42,0\n6,42,.45\n7,42,.38\n8,42,.38\n9,42,.6\n10,42,.75\n11,42,1\n12,42,.85\n13,42,1\n14,42,1\n15,42,.9\n16,42,1\n17,42,1\n18,42,1\n19,42,1\n20,42,1\n21,42,1\n22,42,1\n23,42,1\n24,42,1\n25,42,1\n26,42,1\n27,42,1\n28,42,1\n29,42,1\n30,42,1\n31,42,1\n32,42,1\n33,42,1\n34,42,1\n35,42,1\n36,42,1\n37,42,1\n38,42,1\n39,42,1\n40,42,1\n41,42,1\n42,42,1\n43,42,1\n44,42,1\n45,42,1\n46,42,1\n47,42,1\n48,42,1\n49,42,1\n50,42,1\n51,42,1\n52,42,1\n53,42,1\n54,42,1\n55,42,1\n56,42,1\n57,42,1\n58,42,1\n59,42,1\n60,42,1\n61,42,1\n0,43,0\n1,43,0\n2,43,0\n3,43,0\n4,43,0\n5,43,0\n6,43,.45\n7,43,.38\n8,43,.45\n9,43,.33\n10,43,.6\n11,43,.8\n12,43,1\n13,43,.85\n14,43,1\n15,43,1\n16,43,.85\n17,43,1\n18,43,1\n19,43,1\n20,43,1\n21,43,1\n22,43,1\n23,43,1\n24,43,1\n25,43,1\n26,43,1\n27,43,1\n28,43,1\n29,43,1\n30,43,1\n31,43,1\n32,43,1\n33,43,1\n34,43,1\n35,43,1\n36,43,1\n37,43,1\n38,43,1\n39,43,1\n40,43,1\n41,43,1\n42,43,1\n43,43,1\n44,43,1\n45,43,1\n46,43,1\n47,43,1\n48,43,1\n49,43,1\n50,43,1\n51,43,1\n52,43,1\n53,43,1\n54,43,1\n55,43,1\n56,43,1\n57,43,1\n58,43,1\n59,43,1\n60,43,1\n61,43,1\n0,44,0\n1,44,0\n2,44,0\n3,44,0\n4,44,0\n5,44,0\n6,44,.1\n7,44,.38\n8,44,.38\n9,44,.6\n10,44,.6\n11,44,.65\n12,44,.85\n13,44,1\n14,44,1\n15,44,1\n16,44,1\n17,44,1\n18,44,1\n19,44,1\n20,44,1\n21,44,1\n22,44,1\n23,44,1\n24,44,1\n25,44,1\n26,44,1\n27,44,1\n28,44,1\n29,44,1\n30,44,1\n31,44,1\n32,44,1\n33,44,1\n34,44,1\n35,44,1\n36,44,1\n37,44,1\n38,44,1\n39,44,1\n40,44,1\n41,44,1\n42,44,1\n43,44,1\n44,44,1\n45,44,1\n46,44,1\n47,44,1\n48,44,1\n49,44,1\n50,44,1\n51,44,1\n52,44,1\n53,44,1\n54,44,1\n55,44,1\n56,44,1\n57,44,1\n58,44,1\n59,44,1\n60,44,1\n61,44,1\n0,45,0\n1,45,0\n2,45,0\n3,45,0\n4,45,0\n5,45,.1\n6,45,.1\n7,45,.6\n8,45,.9\n9,45,.5\n10,45,.62\n11,45,.85\n12,45,1\n13,45,1\n14,45,.85\n15,45,1\n16,45,1\n17,45,.75\n18,45,1\n19,45,1\n20,45,1\n21,45,1\n22,45,1\n23,45,1\n24,45,1\n25,45,1\n26,45,1\n27,45,1\n28,45,1\n29,45,1\n30,45,1\n31,45,1\n32,45,1\n33,45,1\n34,45,1\n35,45,1\n36,45,1\n37,45,1\n38,45,1\n39,45,1\n40,45,1\n41,45,1\n42,45,1\n43,45,1\n44,45,1\n45,45,1\n46,45,1\n47,45,1\n48,45,1\n49,45,1\n50,45,1\n51,45,1\n52,45,1\n53,45,1\n54,45,1\n55,45,1\n56,45,1\n57,45,1\n58,45,1\n59,45,1\n60,45,1\n61,45,1\n0,46,0\n1,46,0\n2,46,0\n3,46,0\n4,46,0\n5,46,.2\n6,46,.2\n7,46,.45\n8,46,.55\n9,46,.8\n10,46,1\n11,46,.85\n12,46,1\n13,46,.9\n14,46,1\n15,46,1\n16,46,1\n17,46,.75\n18,46,1\n19,46,1\n20,46,1\n21,46,1\n22,46,1\n23,46,1\n24,46,1\n25,46,1\n26,46,1\n27,46,1\n28,46,1\n29,46,1\n30,46,1\n31,46,1\n32,46,1\n33,46,1\n34,46,1\n35,46,1\n36,46,1\n37,46,1\n38,46,1\n39,46,1\n40,46,1\n41,46,1\n42,46,1\n43,46,1\n44,46,1\n45,46,1\n46,46,1\n47,46,1\n48,46,1\n49,46,1\n50,46,1\n51,46,1\n52,46,1\n53,46,1\n54,46,1\n55,46,1\n56,46,1\n57,46,1\n58,46,1\n59,46,1\n60,46,1\n61,46,1\n0,47,0\n1,47,0\n2,47,0\n3,47,0\n4,47,0\n5,47,.2\n6,47,.25\n7,47,.35\n8,47,.45\n9,47,.6\n10,47,.65\n11,47,1\n12,47,.85\n13,47,1\n14,47,1\n15,47,1\n16,47,1\n17,47,1\n18,47,1\n19,47,.85\n20,47,1\n21,47,.85\n22,47,1\n23,47,1\n24,47,1\n25,47,1\n26,47,1\n27,47,1\n28,47,1\n29,47,1\n30,47,1\n31,47,1\n32,47,1\n33,47,1\n34,47,1\n35,47,1\n36,47,1\n37,47,1\n38,47,1\n39,47,1\n40,47,1\n41,47,1\n42,47,1\n43,47,1\n44,47,1\n45,47,1\n46,47,1\n47,47,1\n48,47,1\n49,47,1\n50,47,1\n51,47,1\n52,47,1\n53,47,1\n54,47,1\n55,47,1\n56,47,1\n57,47,1\n58,47,1\n59,47,1\n60,47,1\n61,47,1\n0,48,0\n1,48,0\n2,48,0\n3,48,0\n4,48,0\n5,48,.2\n6,48,.2\n7,48,.3\n8,48,.75\n9,48,.6\n10,48,.6\n11,48,.75\n12,48,.7\n13,48,1\n14,48,1\n15,48,.9\n16,48,1\n17,48,1\n18,48,1\n19,48,1\n20,48,.85\n21,48,1\n22,48,1\n23,48,1\n24,48,1\n25,48,1\n26,48,1\n27,48,1\n28,48,1\n29,48,1\n30,48,1\n31,48,1\n32,48,1\n33,48,1\n34,48,1\n35,48,1\n36,48,1\n37,48,1\n38,48,1\n39,48,1\n40,48,1\n41,48,1\n42,48,1\n43,48,1\n44,48,1\n45,48,1\n46,48,1\n47,48,1\n48,48,1\n49,48,1\n50,48,1\n51,48,1\n52,48,1\n53,48,1\n54,48,1\n55,48,1\n56,48,1\n57,48,1\n58,48,1\n59,48,1\n60,48,1\n61,48,1\n0,49,0\n1,49,0\n2,49,0\n3,49,0\n4,49,0\n5,49,.15\n6,49,.38\n7,49,.35\n8,49,.45\n9,49,.6\n10,49,.5\n11,49,.8\n12,49,1\n13,49,1\n14,49,.85\n15,49,1\n16,49,.85\n17,49,1\n18,49,1\n19,49,.85\n20,49,1\n21,49,.85\n22,49,1\n23,49,1\n24,49,1\n25,49,1\n26,49,1\n27,49,1\n28,49,1\n29,49,1\n30,49,1\n31,49,1\n32,49,1\n33,49,1\n34,49,1\n35,49,1\n36,49,1\n37,49,1\n38,49,1\n39,49,1\n40,49,1\n41,49,1\n42,49,1\n43,49,1\n44,49,1\n45,49,1\n46,49,1\n47,49,1\n48,49,1\n49,49,1\n50,49,1\n51,49,1\n52,49,1\n53,49,1\n54,49,1\n55,49,1\n56,49,1\n57,49,1\n58,49,1\n59,49,1\n60,49,1\n61,49,1\n0,50,0\n1,50,0\n2,50,0\n3,50,0\n4,50,0\n5,50,.1\n6,50,.1\n7,50,.35\n8,50,.5\n9,50,.38\n10,50,.6\n11,50,1\n12,50,.85\n13,50,1\n14,50,.9\n15,50,1\n16,50,1\n17,50,1\n18,50,1\n19,50,1\n20,50,1\n21,50,1\n22,50,1\n23,50,1\n24,50,1\n25,50,1\n26,50,1\n27,50,1\n28,50,1\n29,50,1\n30,50,1\n31,50,1\n32,50,1\n33,50,1\n34,50,1\n35,50,1\n36,50,1\n37,50,1\n38,50,1\n39,50,1\n40,50,1\n41,50,1\n42,50,1\n43,50,1\n44,50,1\n45,50,1\n46,50,1\n47,50,1\n48,50,1\n49,50,1\n50,50,1\n51,50,1\n52,50,1\n53,50,1\n54,50,1\n55,50,1\n56,50,1\n57,50,1\n58,50,1\n59,50,1\n60,50,1\n61,50,1\n0,51,0\n1,51,0\n2,51,0\n3,51,0\n4,51,0\n5,51,.1\n6,51,.18\n7,51,.38\n8,51,.5\n9,51,.6\n10,51,.62\n11,51,.8\n12,51,1\n13,51,.7\n14,51,1\n15,51,1\n16,51,1\n17,51,1\n18,51,1\n19,51,.85\n20,51,1\n21,51,1\n22,51,1\n23,51,1\n24,51,1\n25,51,1\n26,51,1\n27,51,1\n28,51,1\n29,51,1\n30,51,1\n31,51,1\n32,51,1\n33,51,1\n34,51,1\n35,51,1\n36,51,1\n37,51,1\n38,51,1\n39,51,1\n40,51,1\n41,51,1\n42,51,1\n43,51,1\n44,51,1\n45,51,1\n46,51,1\n47,51,1\n48,51,1\n49,51,1\n50,51,1\n51,51,1\n52,51,1\n53,51,1\n54,51,1\n55,51,1\n56,51,1\n57,51,1\n58,51,1\n59,51,1\n60,51,1\n61,51,1\n0,52,0\n1,52,0\n2,52,0\n3,52,0\n4,52,0\n5,52,.1\n6,52,.2\n7,52,.5\n8,52,.38\n9,52,.6\n10,52,.75\n11,52,1\n12,52,1\n13,52,.7\n14,52,1\n15,52,.85\n16,52,.75\n17,52,1\n18,52,1\n19,52,1\n20,52,1\n21,52,1\n22,52,1\n23,52,1\n24,52,1\n25,52,1\n26,52,1\n27,52,1\n28,52,1\n29,52,1\n30,52,1\n31,52,1\n32,52,1\n33,52,1\n34,52,1\n35,52,1\n36,52,1\n37,52,1\n38,52,1\n39,52,1\n40,52,1\n41,52,1\n42,52,1\n43,52,1\n44,52,1\n45,52,1\n46,52,1\n47,52,1\n48,52,1\n49,52,1\n50,52,1\n51,52,1\n52,52,1\n53,52,1\n54,52,1\n55,52,1\n56,52,1\n57,52,1\n58,52,1\n59,52,1\n60,52,1\n61,52,1\n0,53,0\n1,53,0\n2,53,0\n3,53,0\n4,53,0\n5,53,.1\n6,53,.2\n7,53,.38\n8,53,.5\n9,53,.6\n10,53,.65\n11,53,.8\n12,53,1\n13,53,.9\n14,53,1\n15,53,1\n16,53,1\n17,53,1\n18,53,.85\n19,53,1\n20,53,1\n21,53,1\n22,53,1\n23,53,1\n24,53,1\n25,53,1\n26,53,1\n27,53,1\n28,53,1\n29,53,1\n30,53,1\n31,53,1\n32,53,1\n33,53,1\n34,53,1\n35,53,1\n36,53,1\n37,53,1\n38,53,1\n39,53,1\n40,53,1\n41,53,1\n42,53,1\n43,53,1\n44,53,1\n45,53,1\n46,53,1\n47,53,1\n48,53,1\n49,53,1\n50,53,1\n51,53,1\n52,53,1\n53,53,1\n54,53,1\n55,53,1\n56,53,1\n57,53,1\n58,53,1\n59,53,1\n60,53,1\n61,53,1\n0,54,0\n1,54,0\n2,54,0\n3,54,0\n4,54,0\n5,54,.1\n6,54,.3\n7,54,.45\n8,54,.55\n9,54,.6\n10,54,.85\n11,54,1\n12,54,.85\n13,54,1\n14,54,1\n15,54,.9\n16,54,1\n17,54,1\n18,54,1\n19,54,1\n20,54,1\n21,54,1\n22,54,1\n23,54,1\n24,54,1\n25,54,1\n26,54,1\n27,54,1\n28,54,1\n29,54,1\n30,54,1\n31,54,1\n32,54,1\n33,54,1\n34,54,1\n35,54,1\n36,54,1\n37,54,1\n38,54,1\n39,54,1\n40,54,1\n41,54,1\n42,54,1\n43,54,1\n44,54,1\n45,54,1\n46,54,1\n47,54,1\n48,54,1\n49,54,1\n50,54,1\n51,54,1\n52,54,1\n53,54,1\n54,54,1\n55,54,1\n56,54,1\n57,54,1\n58,54,1\n59,54,1\n60,54,1\n61,54,1\n0,55,0\n1,55,0\n2,55,0\n3,55,0\n4,55,0\n5,55,.12\n6,55,0\n7,55,.18\n8,55,.38\n9,55,.35\n10,55,.38\n11,55,.8\n12,55,1\n13,55,.8\n14,55,1\n15,55,.9\n16,55,.8\n17,55,.85\n18,55,1\n19,55,.85\n20,55,1\n21,55,1\n22,55,1\n23,55,1\n24,55,1\n25,55,1\n26,55,1\n27,55,1\n28,55,1\n29,55,1\n30,55,1\n31,55,1\n32,55,1\n33,55,1\n34,55,1\n35,55,1\n36,55,1\n37,55,1\n38,55,1\n39,55,1\n40,55,1\n41,55,1\n42,55,1\n43,55,1\n44,55,1\n45,55,1\n46,55,1\n47,55,1\n48,55,1\n49,55,1\n50,55,1\n51,55,1\n52,55,1\n53,55,1\n54,55,1\n55,55,1\n56,55,1\n57,55,1\n58,55,1\n59,55,1\n60,55,1\n61,55,1\n0,56,0\n1,56,0\n2,56,0\n3,56,0\n4,56,0\n5,56,.1\n6,56,.1\n7,56,.2\n8,56,.35\n9,56,.45\n10,56,.6\n11,56,1\n12,56,.9\n13,56,1\n14,56,.85\n15,56,1\n16,56,1\n17,56,1\n18,56,1\n19,56,1\n20,56,1\n21,56,1\n22,56,1\n23,56,1\n24,56,1\n25,56,1\n26,56,1\n27,56,1\n28,56,1\n29,56,1\n30,56,1\n31,56,1\n32,56,1\n33,56,1\n34,56,1\n35,56,1\n36,56,1\n37,56,1\n38,56,1\n39,56,1\n40,56,1\n41,56,1\n42,56,1\n43,56,1\n44,56,1\n45,56,1\n46,56,1\n47,56,1\n48,56,1\n49,56,1\n50,56,1\n51,56,1\n52,56,1\n53,56,1\n54,56,1\n55,56,1\n56,56,1\n57,56,1\n58,56,1\n59,56,1\n60,56,1\n61,56,1\n0,57,0\n1,57,0\n2,57,0\n3,57,0\n4,57,.1\n5,57,.1\n6,57,0\n7,57,.55\n8,57,.4\n9,57,.9\n10,57,.8\n11,57,1\n12,57,1\n13,57,.9\n14,57,1\n15,57,.85\n16,57,.8\n17,57,.85\n18,57,1\n19,57,1\n20,57,1\n21,57,1\n22,57,1\n23,57,1\n24,57,1\n25,57,1\n26,57,1\n27,57,1\n28,57,1\n29,57,1\n30,57,1\n31,57,1\n32,57,1\n33,57,1\n34,57,1\n35,57,1\n36,57,1\n37,57,1\n38,57,1\n39,57,1\n40,57,1\n41,57,1\n42,57,1\n43,57,1\n44,57,1\n45,57,1\n46,57,1\n47,57,1\n48,57,1\n49,57,1\n50,57,1\n51,57,1\n52,57,1\n53,57,1\n54,57,1\n55,57,1\n56,57,1\n57,57,1\n58,57,1\n59,57,1\n60,57,1\n61,57,1\n0,58,0\n1,58,0\n2,58,0\n3,58,0\n4,58,.3\n5,58,.3\n6,58,.2\n7,58,.3\n8,58,.55\n9,58,.75\n10,58,.85\n11,58,.85\n12,58,.8\n13,58,1\n14,58,.9\n15,58,1\n16,58,1\n17,58,1\n18,58,1\n19,58,.85\n20,58,1\n21,58,1\n22,58,1\n23,58,1\n24,58,1\n25,58,1\n26,58,1\n27,58,1\n28,58,1\n29,58,1\n30,58,1\n31,58,1\n32,58,1\n33,58,1\n34,58,1\n35,58,1\n36,58,1\n37,58,1\n38,58,1\n39,58,1\n40,58,1\n41,58,1\n42,58,1\n43,58,1\n44,58,1\n45,58,1\n46,58,1\n47,58,1\n48,58,1\n49,58,1\n50,58,1\n51,58,1\n52,58,1\n53,58,1\n54,58,1\n55,58,1\n56,58,1\n57,58,1\n58,58,1\n59,58,1\n60,58,1\n61,58,1\n0,59,0\n1,59,0\n2,59,0\n3,59,0\n4,59,.2\n5,59,.2\n6,59,.2\n7,59,.4\n8,59,.2\n9,59,.65\n10,59,.7\n11,59,.65\n12,59,.85\n13,59,1\n14,59,1\n15,59,1\n16,59,1\n17,59,1\n18,59,1\n19,59,1\n20,59,1\n21,59,.85\n22,59,1\n23,59,1\n24,59,.85\n25,59,1\n26,59,1\n27,59,1\n28,59,1\n29,59,1\n30,59,1\n31,59,1\n32,59,1\n33,59,1\n34,59,1\n35,59,1\n36,59,1\n37,59,1\n38,59,1\n39,59,1\n40,59,1\n41,59,1\n42,59,1\n43,59,1\n44,59,1\n45,59,1\n46,59,1\n47,59,1\n48,59,1\n49,59,1\n50,59,1\n51,59,1\n52,59,1\n53,59,1\n54,59,1\n55,59,1\n56,59,1\n57,59,1\n58,59,1\n59,59,1\n60,59,1\n61,59,1\n0,60,0\n1,60,0\n2,60,0\n3,60,0\n4,60,.2\n5,60,.2\n6,60,.2\n7,60,.4\n8,60,.2\n9,60,.65\n10,60,.7\n11,60,.65\n12,60,.85\n13,60,1\n14,60,1\n15,60,1\n16,60,1\n17,60,1\n18,60,1\n19,60,1\n20,60,1\n21,60,.85\n22,60,1\n23,60,1\n24,60,.85\n25,60,1\n26,60,1\n27,60,1\n28,60,1\n29,60,1\n30,60,1\n31,60,1\n32,60,1\n33,60,1\n34,60,1\n35,60,1\n36,60,1\n37,60,1\n38,60,1\n39,60,1\n40,60,1\n41,60,1\n42,60,1\n43,60,1\n44,60,1\n45,60,1\n46,60,1\n47,60,1\n48,60,1\n49,60,1\n50,60,1\n51,60,1\n52,60,1\n53,60,1\n54,60,1\n55,60,1\n56,60,1\n57,60,1\n58,60,1\n59,60,1\n60,60,1\n61,60,1\n0,61,0\n1,61,0\n2,61,0\n3,61,0\n4,61,.2\n5,61,.2\n6,61,.2\n7,61,.4\n8,61,.2\n9,61,.65\n10,61,.7\n11,61,.65\n12,61,.85\n13,61,1\n14,61,1\n15,61,1\n16,61,1\n17,61,1\n18,61,1\n19,61,1\n20,61,1\n21,61,.85\n22,61,1\n23,61,1\n24,61,.85\n25,61,1\n26,61,1\n27,61,1\n28,61,1\n29,61,1\n30,61,1\n31,61,1\n32,61,1\n33,61,1\n34,61,1\n35,61,1\n36,61,1\n37,61,1\n38,61,1\n39,61,1\n40,61,1\n41,61,1\n42,61,1\n43,61,1\n44,61,1\n45,61,1\n46,61,1\n47,61,1\n48,61,1\n49,61,1\n50,61,1\n51,61,1\n52,61,1\n53,61,1\n54,61,1\n55,61,1\n56,61,1\n57,61,1\n58,61,1\n59,61,1\n60,61,1\n61,61,1","format":{"type":"csv","parse":{"k":"number","d":"number","v":"number"}}},
"mark":{"type":"point","shape":"M-1,-0.85H1V0.85H-1Z","size":63.1,"filled":true,"opacity":1,"stroke":"#000","strokeOpacity":0.2,"strokeWidth":0.6},
"encoding":{
"x":{"field":"k","type":"quantitative","scale":{"domain":[-5.07,68.07],"nice":false,"zero":false},"axis":{"orient":"bottom","values":[0,10,20,30,40,50,60],"labelPadding":22,"title":"k","titleX":290.5,"titleY":79,"titleAlign":"center","titleBaseline":"alphabetic"}},
"y":{"field":"d","type":"quantitative","scale":{"domain":[-4.87,67.04],"nice":false,"zero":false},"axis":{"orient":"left","values":[0,20,40,60],"labelPadding":24,"title":"d","titleAngle":0,"titleX":-104,"titleY":253.5,"titleAlign":"center","titleBaseline":"alphabetic"}},
"color":{"field":"v","type":"quantitative","scale":{"domain":[-0.001,0.3333,0.6667,1.001],"range":["#0000ff","#ffff00","#ff8000","#ff0000"],"interpolate":"rgb"},"legend":{"orient":"none","legendX":608,"legendY":0,"direction":"vertical","type":"gradient","gradientLength":483,"gradientThickness":42,"title":null,"values":[0,0.2,0.4,0.6,0.8,1],"format":".1~f","labelFont":"Liberation Serif","labelFontSize":27,"labelColor":"#000","labelOffset":11,"labelBaseline":"middle","labelAlign":"left","labelOverlap":false,"gradientStrokeColor":"#333","gradientStrokeWidth":1,"padding":0}}
}},
{"data":{"values":[{"k":3.2,"d":62.5},{"k":3.3,"d":60.61},{"k":3.45,"d":57.97},{"k":3.6,"d":55.56},{"k":3.8,"d":52.63},{"k":4,"d":50},{"k":4.25,"d":47.06},{"k":4.5,"d":44.44},{"k":4.75,"d":42.11},{"k":5,"d":40},{"k":5.5,"d":36.36},{"k":6,"d":33.33},{"k":6.5,"d":30.77},{"k":7,"d":28.57},{"k":7.5,"d":26.67},{"k":8,"d":25},{"k":8.5,"d":23.53},{"k":9,"d":22.22},{"k":10,"d":20},{"k":11,"d":18.18},{"k":12,"d":16.67},{"k":13,"d":15.38},{"k":14,"d":14.29},{"k":15,"d":13.33},{"k":16,"d":12.5},{"k":17,"d":11.76},{"k":18,"d":11.11},{"k":20,"d":10},{"k":22,"d":9.09},{"k":24,"d":8.33},{"k":26,"d":7.69},{"k":28,"d":7.14},{"k":30,"d":6.67},{"k":33,"d":6.06},{"k":36,"d":5.56},{"k":40,"d":5},{"k":44,"d":4.55},{"k":48,"d":4.17},{"k":52,"d":3.85},{"k":56,"d":3.57},{"k":60,"d":3.33},{"k":62.4,"d":3.21}]},
"mark":{"type":"line","color":"#ffffff","strokeWidth":16,"interpolate":"monotone","strokeCap":"butt"},
"encoding":{"x":{"field":"k","type":"quantitative","scale":{"domain":[-5.07,68.07],"nice":false,"zero":false},"axis":null},"y":{"field":"d","type":"quantitative","scale":{"domain":[-4.87,67.04],"nice":false,"zero":false},"axis":null}}},
{"data":{"values":[{"k":11.39,"d":17.95,"t":"kd"}]},
"mark":{"type":"text","font":"Liberation Serif","fontSize":27,"fontStyle":"italic","angle":47.5,"align":"right","baseline":"middle","dx":-3.5,"color":"#000"},
"encoding":{"x":{"field":"k","type":"quantitative","scale":{"domain":[-5.07,68.07],"nice":false,"zero":false},"axis":null},"y":{"field":"d","type":"quantitative","scale":{"domain":[-4.87,67.04],"nice":false,"zero":false},"axis":null},"text":{"field":"t"}}},
{"data":{"values":[{"k":11.39,"d":17.95,"t":"= 200"}]},
"mark":{"type":"text","font":"Liberation Serif","fontSize":27,"angle":47.5,"align":"left","baseline":"middle","dx":3.5,"color":"#000"},
"encoding":{"x":{"field":"k","type":"quantitative","scale":{"domain":[-5.07,68.07],"nice":false,"zero":false},"axis":null},"y":{"field":"d","type":"quantitative","scale":{"domain":[-4.87,67.04],"nice":false,"zero":false},"axis":null},"text":{"field":"t"}}},
{"data":{"values":[{"k":62.4,"d":3.2}]},
"mark":{"type":"point","shape":"square","size":64,"filled":true,"opacity":1,"fill":"#c00000","stroke":"#e07070","strokeWidth":1},
"encoding":{"x":{"field":"k","type":"quantitative","scale":{"domain":[-5.07,68.07],"nice":false,"zero":false},"axis":{"orient":"top","labels":false,"values":[0,10,20,30,40,50,60],"title":null}},"y":{"field":"d","type":"quantitative","scale":{"domain":[-4.87,67.04],"nice":false,"zero":false},"axis":{"orient":"right","labels":false,"values":[0,20,40,60],"title":null}}}}
],
"resolve":{"axis":{"x":"independent","y":"independent"}}
}
